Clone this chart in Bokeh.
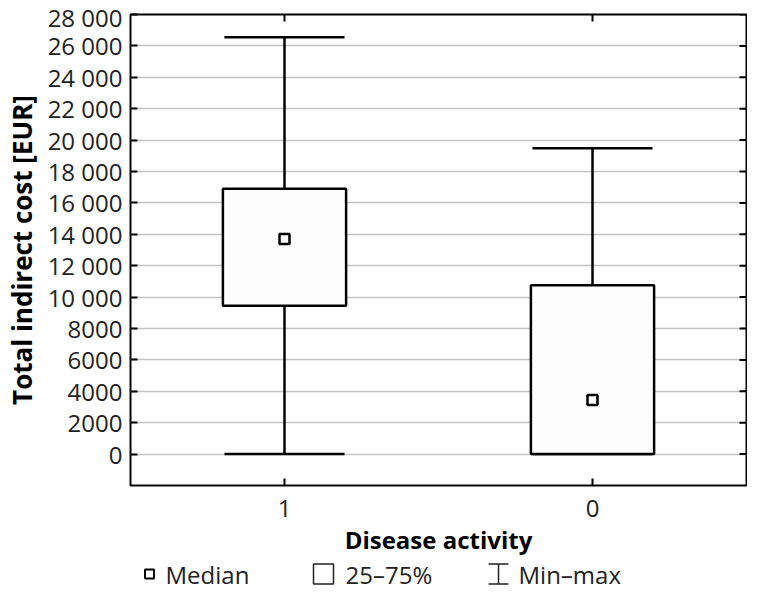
import math
from bokeh.plotting import figure
from bokeh.layouts import column
from bokeh.models import FixedTicker, ColumnDataSource, Range1d
from bokeh.transform import dodge
from bokeh.core.properties import value
from bokeh.embed import file_html
from bokeh.resources import INLINE

# ---- data ----
categories = ["1", "0"]
mins = [0, 0]
q1 = [9450, 0]
medians = [13700, 3450]
q3 = [16900, 10750]
maxs = [26550, 19480]
y_ticks = list(range(0, 28001, 2000))
y_labels = {t: (f"{t:,}".replace(",", " ") if t >= 10000 else str(t)) for t in y_ticks}
legend_labels = ["Median", "25–75%", "Min–max"]
Y_MIN, Y_MAX = -2000, 28000

FONT = "Open Sans"
W = 747
FRAME_LEFT = 130
src = ColumnDataSource(dict(x=categories, lo=mins, q1=q1, med=medians, q3=q3, hi=maxs))

p = figure(x_range=categories, y_range=Range1d(Y_MIN, Y_MAX), width=W, height=558,
           output_backend="svg", toolbar_location=None,
           min_border_left=FRAME_LEFT, min_border_right=1, min_border_top=14, min_border_bottom=72)
p.outline_line_color = "black"
p.outline_line_width = 2
p.xgrid.visible = False
p.ygrid.grid_line_color = "#c4c4c4"
p.ygrid.grid_line_width = 1.5
p.ygrid.ticker = FixedTicker(ticks=y_ticks)

# whiskers
p.segment(x0="x", y0="lo", x1="x", y1="hi", source=src, line_color="black", line_width=2.5)
for col in ("hi", "lo"):
    p.segment(x0=dodge("x", -0.195, range=p.x_range), y0=col,
              x1=dodge("x", 0.195, range=p.x_range), y1=col,
              source=src, line_color="black", line_width=2.5)
# boxes
p.vbar(x="x", bottom="q1", top="q3", width=0.4, source=src, fill_color="#fdfdfd",
       line_color="black", line_width=2.5)
# medians
p.scatter(x="x", y="med", source=src, marker="square", size=10, fill_color="white",
          line_color="black", line_width=2.5)

# mirror ticks (top and right, pointing inward; outer half clipped by the frame)
p.scatter(x=categories, y=[Y_MAX] * len(categories), marker="dash", angle=math.pi / 2, size=14,
          line_color="black", line_width=2)
rsrc = ColumnDataSource(dict(x=[categories[-1]] * len(y_ticks), y=y_ticks))
p.scatter(x=dodge("x", 0.5, range=p.x_range), y="y", source=rsrc, marker="dash", size=14,
          line_color="black", line_width=2)

# axes
ya = p.yaxis[0]
ya.ticker = FixedTicker(ticks=y_ticks)
ya.major_label_overrides = y_labels
ya.axis_label = "Total indirect cost [EUR]"
xa = p.xaxis[0]
xa.axis_label = "Disease activity"
for ax in (xa, ya):
    ax.axis_line_color = None
    ax.major_tick_in = 7
    ax.major_tick_out = 0
    ax.major_tick_line_color = "black"
    ax.major_tick_line_width = 2
    ax.minor_tick_line_color = None
    ax.major_label_text_font = FONT
    ax.major_label_text_font_size = "24px"
    ax.major_label_text_color = "#222222"
    ax.axis_label_text_font = FONT
    ax.axis_label_text_font_size = "24px"
    ax.axis_label_text_font_style = "bold"
    ax.axis_label_text_color = "black"
ya.axis_label_text_font_size = "26px"
ya.major_label_standoff = 8
ya.axis_label_standoff = 5
xa.major_label_standoff = 14
xa.axis_label_standoff = 3

# legend strip (x coordinates measured from the plot frame's left edge, in px)
LH = 31
lg = figure(width=W, height=LH, x_range=Range1d(0, W - FRAME_LEFT - 1), y_range=Range1d(0, LH),
            output_backend="svg", toolbar_location=None,
            min_border_left=FRAME_LEFT, min_border_right=1, min_border_top=0, min_border_bottom=0)
lg.axis.visible = False
lg.grid.visible = False
lg.outline_line_color = None
ly = LH / 2
lg.scatter([19], [ly], marker="square", size=9, fill_color="white", line_color="black", line_width=2)
lg.scatter([193], [ly], marker="square", size=20, fill_color="white", line_color="#222222", line_width=1.5)
lg.segment([368, 358, 358], [ly - 10, ly + 10, ly - 10], [368, 378, 378], [ly + 10, ly + 10, ly - 10],
           line_color="#222222", line_width=1.5)
lg.text([35, 215, 388], [ly] * 3, text=legend_labels,
        text_font=value(FONT), text_font_size="24px", text_baseline="middle", text_color="#222222")

layout = column(p, lg, spacing=0)
open("out.html", "w").write(file_html(layout, INLINE))
